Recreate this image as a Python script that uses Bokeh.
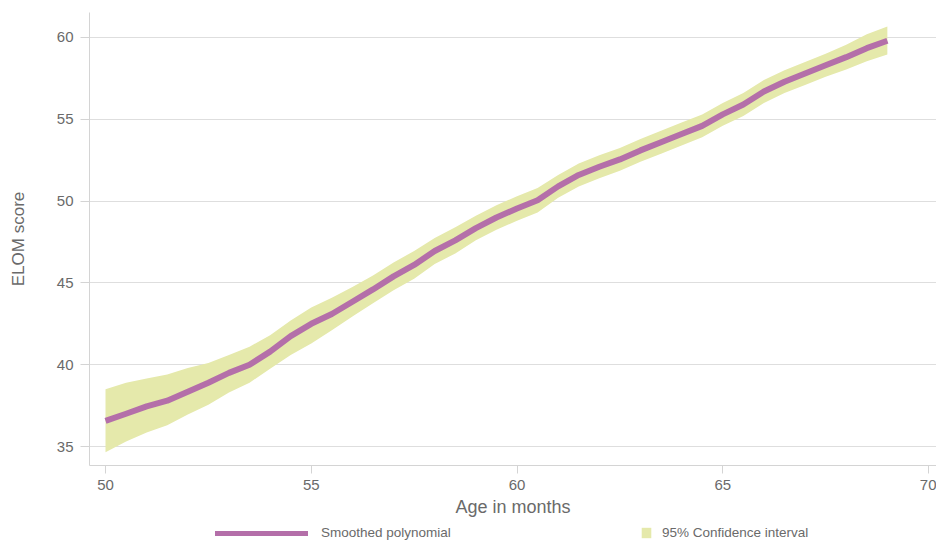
from bokeh.plotting import figure
from bokeh.layouts import column
from bokeh.models import Range1d, FixedTicker, Legend, LegendItem, ColumnDataSource
from bokeh.embed import file_html
from bokeh.resources import INLINE

# ---- data ----
age = [50, 50.5, 51, 51.5, 52, 52.5, 53, 53.5, 54, 54.5, 55, 55.5, 56, 56.5,
       57, 57.5, 58, 58.5, 59, 59.5, 60, 60.5, 61, 61.5, 62, 62.5, 63, 63.5,
       64, 64.5, 65, 65.5, 66, 66.5, 67, 67.5, 68, 68.5, 69]
smoothed = [36.57, 37.0, 37.45, 37.8, 38.35, 38.9, 39.5, 40.0, 40.8, 41.75,
            42.5, 43.1, 43.85, 44.6, 45.4, 46.1, 46.95, 47.6, 48.35, 49.0,
            49.55, 50.05, 50.9, 51.6, 52.1, 52.55, 53.1, 53.6, 54.1, 54.6,
            55.3, 55.9, 56.7, 57.3, 57.8, 58.3, 58.8, 59.35, 59.8]
ci_upper = [38.5, 38.9, 39.15, 39.4, 39.8, 40.1, 40.6, 41.1, 41.8, 42.7,
            43.5, 44.1, 44.75, 45.45, 46.25, 46.95, 47.75, 48.4, 49.1, 49.75,
            50.3, 50.8, 51.6, 52.3, 52.8, 53.25, 53.8, 54.3, 54.8, 55.3,
            56.0, 56.6, 57.4, 58.0, 58.5, 59.0, 59.55, 60.2, 60.67]
ci_lower = [34.65, 35.3, 35.85, 36.3, 36.95, 37.55, 38.3, 38.9, 39.75, 40.6,
            41.3, 42.1, 42.95, 43.75, 44.55, 45.25, 46.15, 46.8, 47.6, 48.25,
            48.8, 49.3, 50.2, 50.9, 51.4, 51.85, 52.4, 52.9, 53.4, 53.9,
            54.6, 55.2, 56.0, 56.6, 57.1, 57.6, 58.05, 58.55, 58.96]
x_ticks = [50, 55, 60, 65, 70]
y_ticks = [35, 40, 45, 50, 55, 60]
x_label = "Age in months"
y_label = "ELOM score"
line_name = "Smoothed polynomial"
band_name = "95% Confidence interval"

LINE_COLOR = "#b46fa9"
BAND_COLOR = "#e5e9ab"
AXIS_COLOR = "#d4d4d4"
TEXT_COLOR = "#6a6a6a"
FONT = "Liberation Sans"

src = ColumnDataSource(dict(age=age, smoothed=smoothed, lo=ci_lower, hi=ci_upper))

p = figure(width=936, height=524, output_backend="svg", toolbar_location=None,
           x_range=Range1d(49.611, 70.194), y_range=Range1d(33.839, 61.528),
           min_border_left=89, min_border_right=0, min_border_top=12,
           min_border_bottom=59)
p.outline_line_color = None
p.background_fill_color = "white"
p.border_fill_color = "white"

band = p.varea(x="age", y1="lo", y2="hi", source=src, fill_color=BAND_COLOR,
               fill_alpha=1.0)
line = p.line(x="age", y="smoothed", source=src, line_color=LINE_COLOR,
              line_width=6, line_join="round")

p.xgrid.grid_line_color = None
p.ygrid.grid_line_color = "#dedede"
p.ygrid.grid_line_width = 1

for ax in (p.xaxis[0], p.yaxis[0]):
    ax.axis_line_color = AXIS_COLOR
    ax.major_tick_line_color = AXIS_COLOR
    ax.minor_tick_line_color = None
    ax.major_tick_in = 0
    ax.major_label_text_color = TEXT_COLOR
    ax.major_label_text_font = FONT
    ax.major_label_text_font_size = "15px"
    ax.axis_label_text_color = TEXT_COLOR
    ax.axis_label_text_font = FONT
    ax.axis_label_text_font_style = "normal"

p.xaxis[0].ticker = FixedTicker(ticks=x_ticks)
p.yaxis[0].ticker = FixedTicker(ticks=y_ticks)
p.xaxis[0].axis_label = x_label
p.yaxis[0].axis_label = y_label
p.xaxis[0].axis_label_text_font_size = "18px"
p.yaxis[0].axis_label_text_font_size = "17px"
p.xaxis[0].major_tick_out = 8
p.xaxis[0].major_label_standoff = 6
p.xaxis[0].axis_label_standoff = 4
p.yaxis[0].major_tick_out = 9
p.yaxis[0].major_label_standoff = 7
p.yaxis[0].axis_label_standoff = 26

# ---- legend strip below the chart (its frame is aligned with the chart's) ----
lg = figure(width=936, height=18, output_backend="svg", toolbar_location=None,
            x_range=Range1d(0, 1), y_range=Range1d(0, 1),
            x_axis_type=None, y_axis_type=None,
            min_border_left=89, min_border_right=0, min_border_top=0,
            min_border_bottom=0)
lg.outline_line_color = None
lg.grid.visible = False
lg.background_fill_color = "white"
lg.border_fill_color = "white"
# key renderers share the chart's source; their data lies outside this strip's view
key_line = lg.line(x="age", y="smoothed", source=src, line_color=LINE_COLOR,
                   line_width=5, line_cap="round")
key_band = lg.varea(x="age", y1="lo", y2="hi", source=src,
                    fill_color=BAND_COLOR, fill_alpha=1.0)

common = dict(orientation="horizontal", padding=0, margin=0, spacing=0,
              border_line_color=None, background_fill_alpha=0,
              label_text_font=FONT, label_text_font_size="13.5px",
              label_text_color=TEXT_COLOR, label_height=14)

leg1 = Legend(items=[LegendItem(label=line_name, renderers=[key_line])],
              location=(126, 2), glyph_width=93, glyph_height=14,
              label_standoff=13, **common)
leg2 = Legend(items=[LegendItem(label=band_name, renderers=[key_band])],
              location=(551, 2), glyph_width=12, glyph_height=13,
              label_standoff=10, **common)
lg.add_layout(leg1, "center")
lg.add_layout(leg2, "center")

layout = column(p, lg, spacing=0)
open("out.html", "w").write(file_html(layout, INLINE))
